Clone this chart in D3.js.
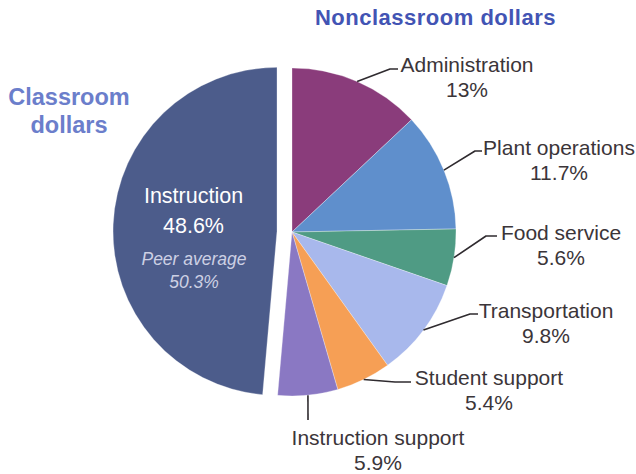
<!DOCTYPE html>
<html>
<head>
<meta charset="utf-8">
<script src="https://cdn.jsdelivr.net/npm/d3@7/dist/d3.min.js"></script>
<style>
  html, body { margin: 0; padding: 0; background: #ffffff; }
  svg { display: block; }
  text { font-family: "Liberation Sans", Arial, Helvetica, sans-serif; }
</style>
</head>
<body>
<svg id="chart" width="636" height="474"></svg>
<script>
// ---------- data ----------
const categories = ["Administration", "Plant operations", "Food service", "Transportation", "Student support", "Instruction support", "Instruction"];
const values = [13, 11.7, 5.6, 9.8, 5.4, 5.9, 48.6];
const valueLabels = ["13%", "11.7%", "5.6%", "9.8%", "5.4%", "5.9%", "48.6%"];
const peerLabel = "Peer average";
const peerValueLabel = "50.3%";
const groupTitles = ["Classroom dollars", "Nonclassroom dollars"];

// ---------- styles / layout ----------
const colors = {
  "Administration": "#8a3c7b",
  "Plant operations": "#5f8fcc",
  "Food service": "#4f9b84",
  "Transportation": "#a8b8ec",
  "Student support": "#f69f55",
  "Instruction support": "#8a78c3",
  "Instruction": "#4c5c8b"
};
// label block layout: text centre x, first baseline y, leader elbow & end
const labelLayout = {
  "Administration":      { x: 467, y: 72,  elbow: [390, 69],  end: [398, 69] },
  "Plant operations":    { x: 559, y: 155, elbow: [475, 151], end: [482, 151] },
  "Food service":        { x: 561, y: 240, elbow: [486, 236], end: [497, 236] },
  "Transportation":      { x: 546, y: 318, elbow: [470, 314], end: [478, 314] },
  "Student support":     { x: 489, y: 385, elbow: [395, 382], end: [411, 382] },
  "Instruction support": { x: 378, y: 445, elbow: [308, 420], end: [308, 420] }
};

const W = 636, H = 474;
const cx = 292, cy = 232, R = 164, explode = 15;

const svg = d3.select("#chart");
const g = svg.append("g").attr("transform", `translate(${cx},${cy})`);

const data = categories.map((c, i) => ({ cat: c, value: values[i], label: valueLabels[i] }));
const pie = d3.pie().sort(null).value(d => d.value).startAngle(0).endAngle(2 * Math.PI);
const arcs = pie(data);
const arc = d3.arc().innerRadius(0).outerRadius(R);

// slices
g.selectAll("path.slice")
  .data(arcs)
  .join("path")
  .attr("class", "slice")
  .attr("d", arc)
  .attr("fill", d => colors[d.data.cat])
  .attr("stroke", "#ffffff")
  .attr("stroke-opacity", 0.5)
  .attr("stroke-width", 0.6)
  .attr("transform", d => {
    if (d.data.cat !== "Instruction") return null;
    const m = (d.startAngle + d.endAngle) / 2;
    return `translate(${explode * Math.sin(m)},${-explode * Math.cos(m)})`;
  });

// leader lines and labels for nonclassroom slices
const outer = arcs.filter(d => d.data.cat !== "Instruction");
outer.forEach(d => {
  const L = labelLayout[d.data.cat];
  const m = (d.startAngle + d.endAngle) / 2;
  const sx = cx + R * Math.sin(m), sy = cy - R * Math.cos(m);
  const line = d3.line().curve(d3.curveLinear);
  svg.append("path")
    .attr("d", line([[sx, sy], L.elbow, L.end]))
    .attr("fill", "none")
    .attr("stroke", "#2f2b2f")
    .attr("stroke-width", 1.6)
    .attr("stroke-linejoin", "round");
  const t = svg.append("text")
    .attr("text-anchor", "middle")
    .attr("fill", "#3b3539")
    .attr("font-size", 21);
  t.append("tspan").attr("x", L.x).attr("y", L.y).text(d.data.cat);
  t.append("tspan").attr("x", L.x).attr("y", L.y + 25).text(d.data.label);
});

// instruction slice labels
const inst = arcs.find(d => d.data.cat === "Instruction");
svg.append("text")
  .attr("x", 193.5).attr("y", 203)
  .attr("text-anchor", "middle").attr("fill", "#ffffff").attr("font-size", 21.5)
  .text(inst.data.cat);
svg.append("text")
  .attr("x", 193.5).attr("y", 233)
  .attr("text-anchor", "middle").attr("fill", "#ffffff").attr("font-size", 21.5)
  .text(inst.data.label);
svg.append("text")
  .attr("x", 194).attr("y", 265)
  .attr("text-anchor", "middle").attr("fill", "#ccd0e4").attr("font-size", 17.5)
  .attr("font-style", "italic")
  .text(peerLabel);
svg.append("text")
  .attr("x", 194).attr("y", 288)
  .attr("text-anchor", "middle").attr("fill", "#ccd0e4").attr("font-size", 17.5)
  .attr("font-style", "italic")
  .text(peerValueLabel);

// group titles
const ct = svg.append("text")
  .attr("text-anchor", "middle").attr("fill", "#6b7ecb")
  .attr("font-size", 23.5).attr("font-weight", "bold");
const cw = groupTitles[0].split(" ");
ct.append("tspan").attr("x", 69).attr("y", 105).text(cw[0]);
ct.append("tspan").attr("x", 69).attr("y", 133).text(cw[1]);

svg.append("text")
  .attr("x", 435.5).attr("y", 25)
  .attr("text-anchor", "middle").attr("fill", "#4254b4")
  .attr("font-size", 22).attr("font-weight", "bold")
  .attr("letter-spacing", 0.5)
  .text(groupTitles[1]);
</script>
</body>
</html>
